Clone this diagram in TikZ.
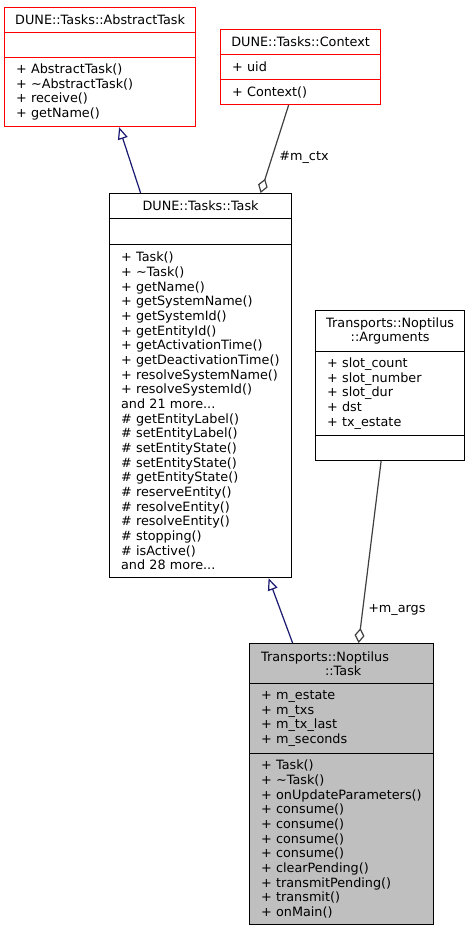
\documentclass[tikz,border=0pt]{standalone}
\usepackage{fontspec}
\usepackage{tikz}
\usetikzlibrary{arrows.meta, positioning}
\newfontfamily\dejavu{DejaVu Sans}
\newcommand{\umlfont}{\dejavu\fontsize{12.8pt}{14.67pt}\selectfont}
\definecolor{dRed}{RGB}{255,0,0}
\definecolor{dNavy}{RGB}{25,25,112}
\definecolor{dGrey}{RGB}{64,64,64}
\definecolor{dFill}{RGB}{191,191,191}

\begin{document}
\begin{tikzpicture}[x=1pt, y=-1pt,
  cpart/.style={draw, line width=1.2pt, anchor=north west, inner ysep=0pt, font=\umlfont},
  ttl/.style={cpart, align=center, inner xsep=2pt},
  members/.style={cpart, align=left, inner xsep=11.5pt},
  inherit/.style={dNavy, line width=1.2pt, -{Triangle[open, length=12pt, width=10pt]}},
  aggr/.style={dGrey, line width=1.2pt, -{Diamond[open, length=15pt, width=10pt]}},
  role/.style={font=\umlfont, text=black, anchor=west, inner sep=0pt}]
  \useasboundingbox[fill=white] (0,0) rectangle (468,931);

  % DUNE::Tasks::AbstractTask
  \node[ttl, draw=dRed, minimum width=191pt, minimum height=25pt] (abs-n) at (4,7) {DUNE::Tasks::AbstractTask};
  \node[ttl, draw=dRed, minimum width=191pt, minimum height=25pt] (abs-a) at (4,32) {};
  \node[members, draw=dRed, text width=168pt, minimum height=69pt] (abs-m) at (4,57)
    {+~AbstractTask()\\+~\textasciitilde AbstractTask()\\+~receive()\\+~getName()};

  % DUNE::Tasks::Context
  \node[ttl, draw=dRed, minimum width=160pt, minimum height=25pt] (ctx-n) at (220,29) {DUNE::Tasks::Context};
  \node[members, draw=dRed, text width=137pt, minimum height=25pt] (ctx-a) at (220,54) {+~uid};
  \node[members, draw=dRed, text width=137pt, minimum height=25pt] (ctx-m) at (220,79) {+~Context()};

  % DUNE::Tasks::Task
  \node[ttl, minimum width=182pt, minimum height=25pt] (task-n) at (109,193) {DUNE::Tasks::Task};
  \node[ttl, minimum width=182pt, minimum height=26pt] (task-a) at (109,218) {};
  \node[members, text width=159pt, minimum height=333pt] (task-m) at (109,244)
    {+~Task()\\+~\textasciitilde Task()\\+~getName()\\+~getSystemName()\\+~getSystemId()\\
     +~getEntityId()\\+~getActivationTime()\\+~getDeactivationTime()\\+~resolveSystemName()\\
     +~resolveSystemId()\\and~21~more...\\\#~getEntityLabel()\\\#~setEntityLabel()\\
     \#~setEntityState()\\\#~setEntityState()\\\#~getEntityState()\\\#~reserveEntity()\\
     \#~resolveEntity()\\\#~resolveEntity()\\\#~stopping()\\\#~isActive()\\and~28~more...};

  % Transports::Noptilus::Arguments
  \node[ttl, minimum width=149pt, minimum height=41pt] (arg-n) at (315,310) {Transports::Noptilus\\::Arguments};
  \node[members, text width=126pt, minimum height=84pt] (arg-a) at (315,351)
    {+~slot\_count\\+~slot\_number\\+~slot\_dur\\+~dst\\+~tx\_estate};
  \node[ttl, minimum width=149pt, minimum height=25pt] (arg-m) at (315,435) {};

  % Transports::Noptilus::Task
  \node[members, fill=dFill, text width=161pt, minimum height=40pt] (nop-n) at (249,643)
    {Transports::Noptilus\\\hspace*{64pt}::Task};
  \node[members, fill=dFill, text width=161pt, minimum height=70pt] (nop-a) at (249,683)
    {+~m\_estate\\+~m\_txs\\+~m\_tx\_last\\+~m\_seconds};
  \node[members, fill=dFill, text width=161pt, minimum height=171pt] (nop-m) at (249,753)
    {+~Task()\\+~\textasciitilde Task()\\+~onUpdateParameters()\\+~consume()\\+~consume()\\
     +~consume()\\+~consume()\\+~clearPending()\\+~transmitPending()\\+~transmit()\\+~onMain()};

  \draw[inherit] ([xshift=-60pt]task-n.north) -- ([xshift=19pt]abs-m.south);
  \draw[inherit] ([xshift=-49pt]nop-n.north) -- ([xshift=68pt]task-m.south);
  \draw[aggr] ([xshift=-12pt]ctx-m.south) -- node[role, pos=0.6, xshift=7pt] {\#m\_ctx} ([xshift=60pt]task-n.north);
  \draw[aggr] ([xshift=-9pt]arg-m.south) -- node[role, pos=0.82, xshift=5pt] {+m\_args} ([xshift=17pt]nop-n.north);
\end{tikzpicture}
\end{document}
